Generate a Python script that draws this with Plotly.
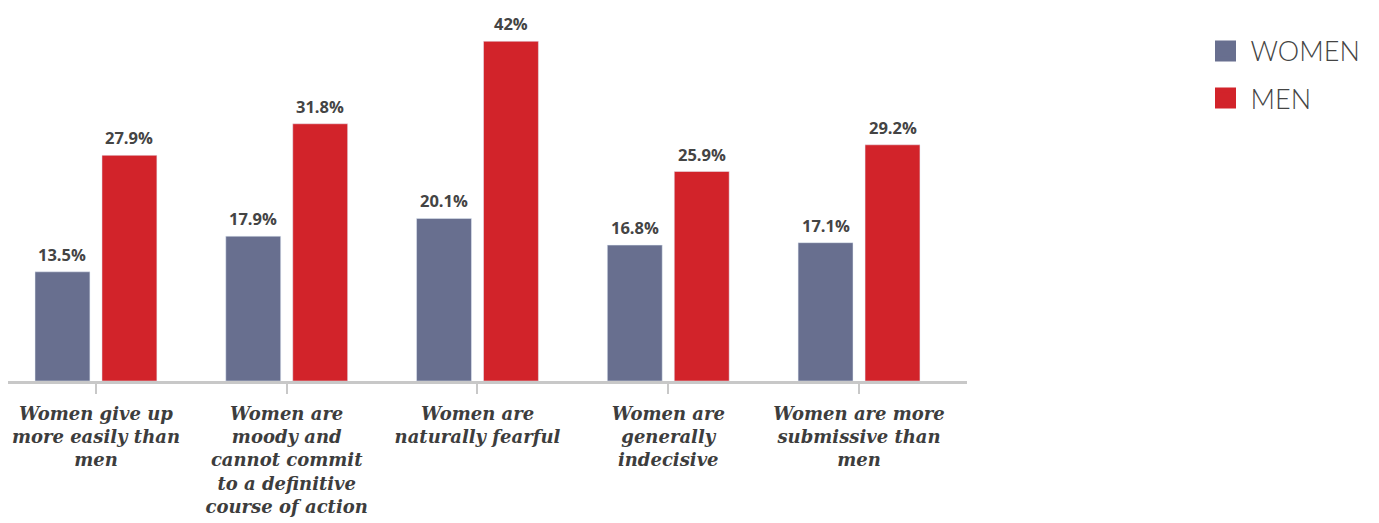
import plotly.graph_objects as go

categories = [
    "Women give up<br>more easily than<br>men",
    "Women are<br>moody and<br>cannot commit<br>to a definitive<br>course of action",
    "Women are<br>naturally fearful",
    "Women are<br>generally<br>indecisive",
    "Women are more<br>submissive than<br>men",
]
women = [13.5, 17.9, 20.1, 16.8, 17.1]
men = [27.9, 31.8, 42, 25.9, 29.2]
women_labels = ["13.5%", "17.9%", "20.1%", "16.8%", "17.1%"]
men_labels = ["27.9%", "31.8%", "42%", "25.9%", "29.2%"]

WOMEN_C = "#686f8f"
MEN_C = "#d2232a"
TEXT_C = "#444444"

idx = list(range(len(categories)))
BARGAP = 0.298
slot = (1 - BARGAP) / 2

fig = go.Figure()
fig.add_trace(go.Bar(x=idx, y=women, name="WOMEN", marker_color=WOMEN_C,
                     showlegend=False, hoverinfo="skip"))
fig.add_trace(go.Bar(x=idx, y=men, name="MEN", marker_color=MEN_C,
                     showlegend=False, hoverinfo="skip"))
# legend entries with larger square swatches
fig.add_trace(go.Scatter(x=[None], y=[None], mode="markers", name="WOMEN",
                         marker=dict(symbol="square", size=16, color=WOMEN_C,
                                     line=dict(width=5, color=WOMEN_C)),
                         legendgroup="w"))
fig.add_trace(go.Scatter(x=[None], y=[None], mode="markers", name="MEN",
                         marker=dict(symbol="square", size=16, color=MEN_C,
                                     line=dict(width=5, color=MEN_C)),
                         legendgroup="m"))

annotations = []
for i in idx:
    for val, lab, off in ((women[i], women_labels[i], -slot / 2),
                          (men[i], men_labels[i], slot / 2)):
        annotations.append(dict(
            x=i + off, y=val, xref="x", yref="y", text=lab, showarrow=False,
            yanchor="bottom", yshift=4,
            font=dict(family="Open Sans", size=16.5, color=TEXT_C, weight="bold"),
        ))

fig.update_layout(
    width=1379, height=523,
    margin=dict(l=0, r=420, t=9, b=150, autoexpand=False),
    paper_bgcolor="white", plot_bgcolor="white",
    barmode="group", bargap=BARGAP, bargroupgap=0.18,
    annotations=annotations,
    legend=dict(
        x=1.2435, y=0.973, xanchor="left", yanchor="top",
        font=dict(family="Lato", size=27, color=TEXT_C, weight=300),
        tracegroupgap=9, itemsizing="trace", itemwidth=40,
        bgcolor="rgba(0,0,0,0)",
    ),
    xaxis=dict(
        tickmode="array", tickvals=idx, ticktext=categories,
        range=[-0.461, 4.566], automargin=False,
        showline=True, linecolor="#c8c8c8", linewidth=3,
        ticks="outside", ticklen=10, tickwidth=2, tickcolor="#c8c8c8",
        ticklabelstandoff=4,
        tickfont=dict(family="DejaVu Serif", size=18, color="#3d3d3d",
                      weight="bold", style="italic"),
        showgrid=False, zeroline=False, fixedrange=True,
    ),
    yaxis=dict(
        range=[0, 45], visible=False, showgrid=False, zeroline=False,
        automargin=False,
    ),
)

fig.write_html("out.html")
